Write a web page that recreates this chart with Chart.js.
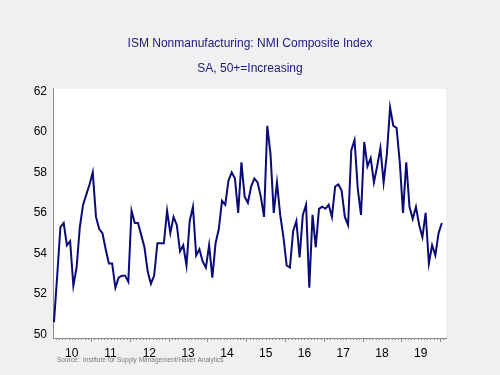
<!DOCTYPE html>
<html>
<head>
<meta charset="utf-8">
<script src="https://cdn.jsdelivr.net/npm/chart.js@4"></script>
<style>
    body { margin: 0; background: #f0f0f0; }
    #wrap { position: relative; width: 500px; height: 375px; }
</style>
</head>
<body>
<div id="wrap"><canvas id="nmiChart"></canvas></div>
<script>
// Monthly NMI composite index, Jan 2010 .. Jan 2020 (index 0 = Jan 2010)
const nmiValues = [
    50.6, 52.9, 55.3, 55.5, 54.4, 54.6, 52.4, 53.3, 55.3, 56.4, 56.9, 57.4,
    58.0, 55.8, 55.2, 55.0, 54.2, 53.5, 53.5, 52.3, 52.8, 52.9, 52.9, 52.6,
    56.1, 55.5, 55.5, 54.9, 54.3, 53.1, 52.5, 52.9, 54.5, 54.5, 54.5, 56.1,
    55.0, 55.8, 55.4, 54.1, 54.4, 53.4, 55.6, 56.3, 53.9, 54.2, 53.6, 53.3,
    54.4, 52.8, 54.5, 55.2, 56.6, 56.4, 57.6, 58.0, 57.7, 56.0, 58.5, 56.8,
    56.5, 57.3, 57.7, 57.5, 56.8, 55.8, 60.3, 58.9, 56.0, 57.5, 55.9, 54.8,
    53.4, 53.3, 55.1, 55.6, 53.8, 55.9, 56.4, 52.3, 55.9, 54.3, 56.2, 56.3,
    56.2, 56.4, 55.8, 57.3, 57.4, 57.1, 55.8, 55.4, 59.1, 59.6, 57.2, 55.9,
    59.5, 58.3, 58.7, 57.5, 58.3, 59.2, 57.5, 58.9, 61.2, 60.3, 60.2, 58.5,
    56.0, 58.5, 56.3, 55.7, 56.3, 55.4, 54.8, 56.0, 53.5, 54.4, 53.9, 55.0,
    55.5
];
const yearLabels = ['10', '11', '12', '13', '14', '15', '16', '17', '18', '19'];
const yTicks = [50, 52, 54, 56, 58, 60, 62];
const titleLines = ['ISM Nonmanufacturing: NMI Composite Index', 'SA, 50+=Increasing'];
const sourceText = 'Source:  Institute for Supply Management/Haver Analytics';

const points = nmiValues.map((v, i) => ({ x: i, y: v }));

// white plot area, month tick marks and the source note
const chartDecor = {
    id: 'chartDecor',
    beforeDraw(chart) {
        const a = chart.chartArea;
        const ctx = chart.ctx;
        ctx.save();
        ctx.fillStyle = '#ffffff';
        ctx.fillRect(a.left, a.top, a.right - a.left, a.bottom - a.top);
        ctx.restore();
    },
    afterDraw(chart) {
        const ctx = chart.ctx;
        const xs = chart.scales.x;
        const a = chart.chartArea;
        ctx.save();
        ctx.strokeStyle = '#8c8c8c';
        ctx.lineWidth = 1;
        for (let m = 0; m <= nmiValues.length; m++) {
            const px = Math.round(xs.getPixelForValue(m - 0.5)) + 0.5;
            if (px < a.left || px > a.right) continue;
            const len = m % 12 === 0 ? 4 : 2;
            ctx.beginPath();
            ctx.moveTo(px, a.bottom);
            ctx.lineTo(px, a.bottom + len);
            ctx.stroke();
        }
        ctx.fillStyle = '#7a7a7a';
        ctx.font = '6.5px Arial, "Liberation Sans", sans-serif';
        ctx.textBaseline = 'middle';
        ctx.fillText(sourceText, 57, 360);
        ctx.restore();
    }
};

new Chart(document.getElementById('nmiChart'), {
    type: 'line',
    data: {
        datasets: [{
            data: points,
            borderColor: '#0a0a78',
            borderWidth: 2,
            pointRadius: 0,
            tension: 0,
            fill: false
        }]
    },
    options: {
        responsive: true,
        maintainAspectRatio: false,
        animation: false,
        layout: { padding: 0 },
        plugins: {
            legend: { display: false },
            tooltip: { enabled: false },
            title: {
                display: true,
                text: titleLines,
                color: '#1a1a80',
                font: { family: 'Arial, "Liberation Sans", sans-serif', size: 12, weight: 'normal', lineHeight: 2.08 },
                padding: { top: 31, bottom: 8 }
            }
        },
        scales: {
            x: {
                type: 'linear',
                min: -0.3,
                max: 121.3,
                grid: { display: false, drawTicks: false },
                border: { display: true, color: '#8c8c8c', width: 1 },
                afterBuildTicks: (scale) => {
                    scale.ticks = yearLabels.map((_, k) => ({ value: 12 * k + 5.5 }));
                },
                afterFit: (scale) => { scale.height = 37; },
                ticks: {
                    autoSkip: false,
                    maxRotation: 0,
                    padding: 8,
                    color: '#000000',
                    font: { family: 'Arial, "Liberation Sans", sans-serif', size: 12 },
                    callback: (v) => yearLabels[Math.round((v - 5.5) / 12)]
                }
            },
            y: {
                min: 49.82,
                max: 62.12,
                grid: { display: false, drawTicks: false },
                border: { display: true, color: '#8c8c8c', width: 1 },
                afterBuildTicks: (scale) => {
                    scale.ticks = yTicks.map(v => ({ value: v }));
                },
                afterFit: (scale) => { scale.width = 53; },
                ticks: {
                    padding: 6,
                    color: '#000000',
                    font: { family: 'Arial, "Liberation Sans", sans-serif', size: 12 }
                }
            },
            // empty right-hand axis that keeps the grey margin on the right
            yRight: {
                position: 'right',
                grid: { display: false, drawTicks: false },
                border: { display: false },
                ticks: { display: false },
                afterFit: (scale) => { scale.width = 54; }
            }
        }
    },
    plugins: [chartDecor]
});
</script>
</body>
</html>
